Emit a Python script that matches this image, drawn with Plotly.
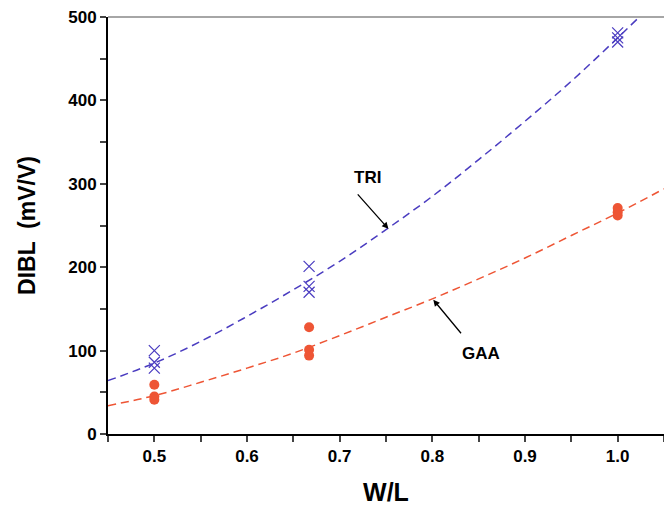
import plotly.graph_objects as go

# measured data (W/L, DIBL mV/V)
tri_x = [0.5, 0.5, 0.5, 0.667, 0.667, 0.667, 1.0, 1.0, 1.0]
tri_y = [100, 86, 79, 201, 177, 170, 481, 475, 470]
gaa_x = [0.5, 0.5, 0.5, 0.667, 0.667, 0.667, 1.0, 1.0, 1.0]
gaa_y = [59, 45, 41, 128, 101, 94, 271, 266, 262]

# fitted trend curves
fit_x = [0.45, 0.5, 0.55, 0.6, 0.65, 0.7, 0.75, 0.8, 0.85, 0.9, 0.95, 1.0, 1.05]
tri_fit = [64, 85, 111, 141, 173, 207, 245, 285, 329, 375, 423, 475, 529]
gaa_fit = [34, 46, 62, 79, 97, 118, 140, 162, 186, 211, 238, 265, 294]

x_ticks = [0.5, 0.6, 0.7, 0.8, 0.9, 1.0]
x_tick_labels = ["0.5", "0.6", "0.7", "0.8", "0.9", "1.0"]
y_ticks = [0, 100, 200, 300, 400, 500]

BLUE = "#4a3cc0"
RED = "#ee5535"

fig = go.Figure()
fig.add_trace(go.Scatter(x=fit_x, y=tri_fit, mode="lines", line=dict(color=BLUE, width=1.5, dash="8px,5px", shape="spline"), showlegend=False, hoverinfo="skip"))
fig.add_trace(go.Scatter(x=fit_x, y=gaa_fit, mode="lines", line=dict(color=RED, width=1.5, dash="8px,5px", shape="spline"), showlegend=False, hoverinfo="skip"))
fig.add_trace(go.Scatter(x=tri_x, y=tri_y, mode="markers", marker=dict(symbol="x-thin-open", size=11, color=BLUE, line=dict(color=BLUE, width=1.2)), showlegend=False))
fig.add_trace(go.Scatter(x=gaa_x, y=gaa_y, mode="markers", marker=dict(symbol="circle", size=10, color=RED), showlegend=False))

fnt = "Liberation Sans, Arial, sans-serif"
fig.add_annotation(x=0.7526, y=246, ax=-32, ay=-36, xref="x", yref="y",
                   showarrow=True, arrowhead=2, arrowsize=1, arrowwidth=1.3, arrowcolor="black", text="")
fig.add_annotation(x=0.801, y=161, ax=29, ay=35, xref="x", yref="y",
                   showarrow=True, arrowhead=2, arrowsize=1, arrowwidth=1.3, arrowcolor="black", text="")
fig.add_annotation(x=0.7295, y=308, xref="x", yref="y", text="TRI", showarrow=False,
                   font=dict(family=fnt, size=17, color="black", weight="bold"))
fig.add_annotation(x=0.8525, y=96, xref="x", yref="y", text="GAA", showarrow=False,
                   font=dict(family=fnt, size=17, color="black", weight="bold"))

# top frame line
fig.add_shape(type="line", xref="paper", yref="paper", x0=0, x1=1, y0=1, y1=1, line=dict(color="#888888", width=1.5))

fig.update_layout(
    width=664, height=511,
    margin=dict(l=108, r=0, t=17, b=77),
    plot_bgcolor="white", paper_bgcolor="white",
    font=dict(family=fnt, color="black"),
    xaxis=dict(range=[0.45, 1.05], tickvals=x_ticks, ticktext=x_tick_labels, ticks="outside", ticklen=6, tickwidth=1.5,
               showline=True, linecolor="black", linewidth=2, showgrid=False, zeroline=False,
               minor=dict(tickvals=[0.45, 0.55, 0.65, 0.75, 0.85, 0.95, 1.05], ticks="outside", ticklen=6, tickwidth=1.5, showgrid=False),
               tickfont=dict(size=17, family=fnt, weight="bold"),
               title=dict(text="W/L", font=dict(size=25, family=fnt, weight="bold"), standoff=18)),
    yaxis=dict(range=[0, 500], tickvals=y_ticks, ticks="outside", ticklen=6, tickwidth=1.5,
               showline=True, linecolor="black", linewidth=2, showgrid=False, zeroline=False,
               minor=dict(tickvals=[50, 150, 250, 350, 450], ticks="outside", ticklen=6, tickwidth=1.5, showgrid=False),
               tickfont=dict(size=17, family=fnt, weight="bold"),
               title=dict(text="DIBL  (mV/V)", font=dict(size=23, family=fnt, weight="bold"), standoff=26)),
)
fig.write_html("out.html")
